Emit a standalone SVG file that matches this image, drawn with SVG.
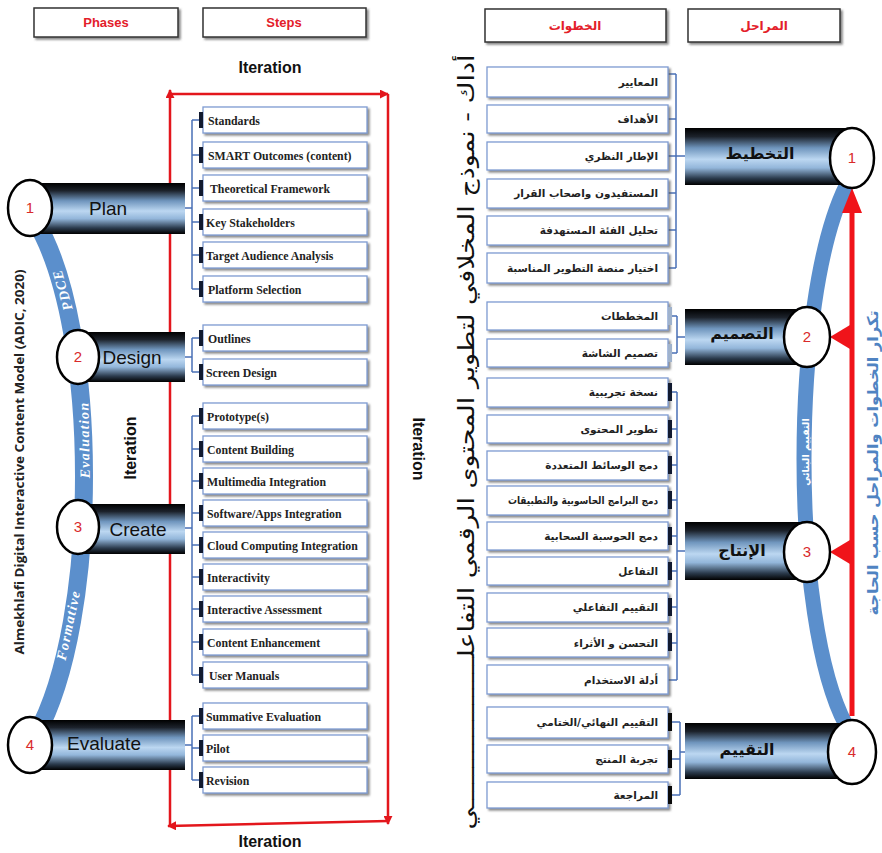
<svg xmlns="http://www.w3.org/2000/svg" width="882" height="853" viewBox="0 0 882 853">
<defs>
<linearGradient id="barGrad" x1="0" y1="0" x2="0" y2="1">
<stop offset="0" stop-color="#000"/>
<stop offset="0.15" stop-color="#1c222b"/>
<stop offset="0.35" stop-color="#6f95bd"/>
<stop offset="0.55" stop-color="#bcd7f1"/>
<stop offset="0.7" stop-color="#93b6da"/>
<stop offset="0.88" stop-color="#2c3c4e"/>
<stop offset="1" stop-color="#000"/>
</linearGradient>
<filter id="sh" x="-10%" y="-20%" width="130%" height="160%">
<feDropShadow dx="2" dy="2" stdDeviation="1.2" flood-color="#555" flood-opacity="0.7"/>
</filter>
<marker id="ah" viewBox="0 0 10 10" refX="9" refY="5" markerWidth="9" markerHeight="9" markerUnits="userSpaceOnUse" orient="auto">
<path d="M0,0 L10,5 L0,10 z" fill="#e3161c"/>
</marker>
<style>
.hdr{fill:#fff;stroke:#333;stroke-width:1.5;filter:url(#sh)}
.hdrt{font-family:"Liberation Sans",Arial,sans-serif;font-size:13px;font-weight:bold;fill:#e3202a;text-anchor:middle}
.hdra{font-family:"DejaVu Sans",sans-serif;font-size:12px;font-weight:bold;fill:#e3202a;text-anchor:middle}
.box{fill:#fff;stroke:#7e9bd2;stroke-width:1.3;filter:url(#sh)}
.lt{font-family:"Liberation Serif","Times New Roman",serif;font-size:11.8px;font-weight:bold;fill:#222}
.rt{font-family:"DejaVu Sans",sans-serif;font-size:10.5px;font-weight:bold;fill:#222;text-anchor:end}
.tab{fill:#111a30}
.tabk{fill:#0a0a0a}
.tabl{fill:#9fb2cc}
.bar{fill:url(#barGrad)}
.circ{fill:#fff;stroke:#000;stroke-width:2.5}
.num{font-family:"Liberation Sans",Arial,sans-serif;font-size:15px;fill:#d92a2a;text-anchor:middle}
.ph{font-family:"Liberation Sans",Arial,sans-serif;font-size:19px;fill:#111;text-anchor:middle}
.pha{font-family:"DejaVu Sans",sans-serif;font-size:16px;font-weight:bold;fill:#111;text-anchor:middle}
.con{fill:none;stroke:#4a70b6;stroke-width:1.5}
.arc{fill:none;stroke:#5b8fcc;stroke-linecap:butt}
.arcl{font-family:"Liberation Serif",serif;font-size:14px;font-weight:bold;font-style:italic;fill:#fff;text-anchor:middle;letter-spacing:1.3px}
.iter{font-family:"Liberation Sans",Arial,sans-serif;font-size:16px;font-weight:bold;fill:#111;text-anchor:middle}
.red{fill:none;stroke:#e3161c;stroke-width:2.5}
</style>
</defs>
<rect width="882" height="853" fill="#fff"/>

<!-- headers -->
<g id="hdr-phases"><rect class="hdr" x="34" y="8" width="144" height="29"/><text class="hdrt" x="106" y="27">Phases</text></g>
<g id="hdr-steps"><rect class="hdr" x="203" y="8" width="163" height="29"/><text class="hdrt" x="284" y="27">Steps</text></g>
<g id="hdr-steps-ar"><rect class="hdr" x="485" y="9" width="181" height="33"/><text class="hdra" x="575" y="30">الخطوات</text></g>
<g id="hdr-phases-ar"><rect class="hdr" x="688" y="9" width="152" height="33"/><text class="hdra" x="764" y="30">المراحل</text></g>

<!-- titles -->
<text class="iter" x="270" y="73">Iteration</text>
<text class="iter" x="270" y="847">Iteration</text>
<text class="iter" transform="translate(136,448) rotate(-90)">Iteration</text>
<text class="iter" transform="translate(413,449) rotate(90)">Iteration</text>
<text transform="translate(24,462) rotate(-90)" font-family="'Open Sans','DejaVu Sans',sans-serif" font-size="11.5" font-weight="bold" fill="#222" text-anchor="middle" textLength="385" lengthAdjust="spacingAndGlyphs">Almekhlafi Digital Interactive Content Model (ADIC, 2020)</text>
<text transform="translate(474,442) rotate(-90)" font-family="'DejaVu Sans',sans-serif" font-size="22" fill="#111" text-anchor="middle" textLength="775" lengthAdjust="spacingAndGlyphs">أداك - نموذج المخلافي لتطوير المحتوى الرقمي التفاعلـــــــــــــــــــي</text>
<text transform="translate(878,463) rotate(-90)" font-family="'DejaVu Sans',sans-serif" font-size="15" font-weight="bold" fill="#4f83c2" text-anchor="middle" textLength="305" lengthAdjust="spacingAndGlyphs">تكرار الخطوات والمراحل حسب الحاجة</text>

<!-- arcs -->
<path class="arc" d="M36,222 C100,330 100,620 36,735" stroke-width="18"/>
<text class="arcl" transform="translate(62,290) rotate(-106)" dy="5">PDCE</text>
<text class="arcl" transform="translate(84,440) rotate(-91)" dy="5">Evaluation</text>
<text class="arcl" transform="translate(68,625) rotate(-78)" dy="5">Formative</text>
<path class="arc" d="M846,186 C790,300 790,620 846,725" stroke-width="15"/>
<text transform="translate(805,452) rotate(-90)" dy="3.5" font-family="'DejaVu Sans',sans-serif" font-size="9.5" font-weight="bold" fill="#fff" text-anchor="middle">التقييم البنائي</text>

<!-- connectors -->
<g id="connectors">
<path class="con" d="M185,208 H192 M192,120 V289 M192,120 H199 M192,155 H199 M192,188 H199 M192,222 H199 M192,255 H199 M192,289 H199"/>
<path class="con" d="M185,357 H192 M192,338 V372 M192,338 H199 M192,372 H199"/>
<path class="con" d="M185,528 H192 M192,416 V675 M192,416 H199 M192,449 H199 M192,481 H199 M192,513 H199 M192,545 H199 M192,577 H199 M192,609 H199 M192,642 H199 M192,675 H199"/>
<path class="con" d="M185,745 H192 M192,716 V780 M192,716 H199 M192,748 H199 M192,780 H199"/>
<path class="con" d="M685,156 H676 M676,74 V268 M668,74 H676 M668,119 H676 M668,156 H676 M668,193 H676 M668,230 H676 M668,268 H676"/>
<path class="con" d="M685,337 H677 M677,316 V353 M672,316 H677 M672,353 H677"/>
<path class="con" d="M685,551 H677 M677,392 V680 M672,392 H677 M672,429 H677 M672,465 H677 M672,500 H677 M672,536 H677 M672,571 H677 M672,607 H677 M672,643 H677 M668,680 H677"/>
<path class="con" d="M685,752 H680 M680,722 V795 M672,722 H680 M672,759 H680 M672,795 H680" stroke="#8aa0c0"/>
<path class="red" d="M170,94 L388,94" marker-end="url(#ah)"/>
<path class="red" d="M388,94 L388,824" marker-end="url(#ah)"/>
<path class="red" d="M388,821 L168,826" marker-end="url(#ah)"/>
<path class="red" d="M170,826 L170,90" marker-end="url(#ah)"/>
<line x1="852" y1="716" x2="852" y2="208" stroke="#f0141a" stroke-width="5"/>
<polygon points="852,188 842,213 862,213" fill="#f0141a"/>
<polygon points="830,337 850,325 850,349" fill="#f0141a"/>
<polygon points="830,552 850,540 850,564" fill="#f0141a"/>
</g>

<!-- left phases -->
<g id="phase-plan"><rect class="bar" x="30" y="183" width="155" height="51"/><ellipse class="circ" cx="30" cy="208" rx="22" ry="28"/><text class="num" x="30" y="213">1</text><text class="ph" x="108" y="215">Plan</text></g>
<g id="phase-design"><rect class="bar" x="78" y="332" width="107" height="50"/><ellipse class="circ" cx="78" cy="357" rx="21" ry="27"/><text class="num" x="78" y="362">2</text><text class="ph" x="132" y="364">Design</text></g>
<g id="phase-create"><rect class="bar" x="78" y="504" width="107" height="50"/><ellipse class="circ" cx="78" cy="527" rx="21" ry="27"/><text class="num" x="78" y="532">3</text><text class="ph" x="138" y="536">Create</text></g>
<g id="phase-evaluate"><rect class="bar" x="30" y="720" width="155" height="50"/><ellipse class="circ" cx="30" cy="745" rx="22" ry="28"/><text class="num" x="30" y="750">4</text><text class="ph" x="104" y="750">Evaluate</text></g>

<!-- right phases -->
<g id="phase-plan-ar"><rect class="bar" x="685" y="128" width="167" height="57"/><ellipse class="circ" cx="852" cy="158" rx="22" ry="30"/><text class="num" x="852" y="163">1</text><text class="pha" x="760" y="159">التخطيط</text></g>
<g id="phase-design-ar"><rect class="bar" x="685" y="309" width="122" height="56"/><ellipse class="circ" cx="807" cy="337" rx="23" ry="30"/><text class="num" x="807" y="342">2</text><text class="pha" x="742" y="339">التصميم</text></g>
<g id="phase-create-ar"><rect class="bar" x="685" y="522" width="122" height="58"/><ellipse class="circ" cx="807" cy="552" rx="23" ry="30"/><text class="num" x="807" y="557">3</text><text class="pha" x="742" y="556">الإنتاج</text></g>
<g id="phase-evaluate-ar"><rect class="bar" x="685" y="723" width="167" height="56"/><ellipse class="circ" cx="852" cy="752" rx="24" ry="32"/><text class="num" x="852" y="757">4</text><text class="pha" x="747" y="755">التقييم</text></g>

<!-- left steps -->
<g id="s-standards"><rect class="box" x="203" y="107" width="164" height="26"/><rect class="tab" x="199" y="112" width="4" height="16"/><text class="lt" x="208" y="124.5">Standards</text></g>
<g id="s-smart"><rect class="box" x="203" y="142" width="164" height="26"/><rect class="tab" x="199" y="147" width="4" height="16"/><text class="lt" x="208" y="159.5">SMART Outcomes (content)</text></g>
<g id="s-theory"><rect class="box" x="203" y="175" width="164" height="26"/><rect class="tab" x="199" y="180" width="4" height="16"/><text class="lt" x="210" y="192.5">Theoretical Framework</text></g>
<g id="s-stake"><rect class="box" x="203" y="209" width="164" height="26"/><rect class="tab" x="199" y="214" width="4" height="16"/><text class="lt" x="206" y="226.5">Key Stakeholders</text></g>
<g id="s-target"><rect class="box" x="203" y="242" width="164" height="26"/><rect class="tab" x="199" y="247" width="4" height="16"/><text class="lt" x="206" y="259.5">Target Audience Analysis</text></g>
<g id="s-platform"><rect class="box" x="203" y="276" width="164" height="26"/><rect class="tab" x="199" y="281" width="4" height="16"/><text class="lt" x="208" y="293.5">Platform Selection</text></g>
<g id="s-outlines"><rect class="box" x="203" y="325" width="164" height="26"/><rect class="tab" x="199" y="330" width="4" height="16"/><text class="lt" x="208" y="342.5">Outlines</text></g>
<g id="s-screen"><rect class="box" x="203" y="359" width="164" height="26"/><rect class="tab" x="199" y="364" width="4" height="16"/><text class="lt" x="206" y="376.5">Screen Design</text></g>
<g id="s-proto"><rect class="box" x="203" y="403" width="164" height="26"/><rect class="tab" x="199" y="408" width="4" height="16"/><text class="lt" x="207" y="420.5">Prototype(s)</text></g>
<g id="s-content"><rect class="box" x="203" y="436" width="164" height="26"/><rect class="tab" x="199" y="441" width="4" height="16"/><text class="lt" x="207" y="453.5">Content Building</text></g>
<g id="s-multi"><rect class="box" x="203" y="468" width="164" height="26"/><rect class="tab" x="199" y="473" width="4" height="16"/><text class="lt" x="207" y="485.5">Multimedia Integration</text></g>
<g id="s-soft"><rect class="box" x="203" y="500" width="164" height="26"/><rect class="tab" x="199" y="505" width="4" height="16"/><text class="lt" x="207" y="517.5">Software/Apps Integration</text></g>
<g id="s-cloud"><rect class="box" x="203" y="532" width="164" height="26"/><rect class="tab" x="199" y="537" width="4" height="16"/><text class="lt" x="207" y="549.5">Cloud Computing Integration</text></g>
<g id="s-inter"><rect class="box" x="203" y="564" width="164" height="26"/><rect class="tab" x="199" y="569" width="4" height="16"/><text class="lt" x="207" y="581.5">Interactivity</text></g>
<g id="s-iassess"><rect class="box" x="203" y="596" width="164" height="26"/><rect class="tab" x="199" y="601" width="4" height="16"/><text class="lt" x="207" y="613.5">Interactive Assessment</text></g>
<g id="s-enh"><rect class="box" x="203" y="629" width="164" height="26"/><rect class="tab" x="199" y="634" width="4" height="16"/><text class="lt" x="207" y="646.5">Content Enhancement</text></g>
<g id="s-manual"><rect class="box" x="203" y="662" width="164" height="26"/><rect class="tab" x="199" y="667" width="4" height="16"/><text class="lt" x="209" y="679.5">User Manuals</text></g>
<g id="s-summ"><rect class="box" x="203" y="703" width="164" height="26"/><rect class="tab" x="199" y="708" width="4" height="16"/><text class="lt" x="206" y="720.5">Summative Evaluation</text></g>
<g id="s-pilot"><rect class="box" x="203" y="735" width="164" height="26"/><rect class="tab" x="199" y="740" width="4" height="16"/><text class="lt" x="206" y="752.5">Pilot</text></g>
<g id="s-rev"><rect class="box" x="203" y="767" width="164" height="26"/><rect class="tab" x="199" y="772" width="4" height="16"/><text class="lt" x="206" y="784.5">Revision</text></g>

<!-- right steps -->
<g id="r-standards"><rect class="box" x="487" y="67" width="181" height="30"/><text class="rt" x="658" y="86">المعايير</text></g>
<g id="r-goals"><rect class="box" x="487" y="105" width="181" height="28"/><text class="rt" x="658" y="123">الأهداف</text></g>
<g id="r-theory"><rect class="box" x="487" y="142" width="181" height="28"/><text class="rt" x="658" y="160">الإطار النظري</text></g>
<g id="r-stake"><rect class="box" x="487" y="179" width="181" height="29"/><text class="rt" x="658" y="197">المستفيدون واصحاب القرار</text></g>
<g id="r-target"><rect class="box" x="487" y="216" width="181" height="29"/><text class="rt" x="658" y="234">تحليل الفئة المستهدفة</text></g>
<g id="r-platform"><rect class="box" x="487" y="253" width="181" height="30"/><text class="rt" x="658" y="272">اختيار منصة التطوير المناسبة</text></g>
<g id="r-outlines"><rect class="box" x="487" y="302" width="181" height="28"/><rect class="tabl" x="668" y="307" width="4" height="18"/><text class="rt" x="658" y="320">المخططات</text></g>
<g id="r-screen"><rect class="box" x="487" y="339" width="181" height="28"/><rect class="tabl" x="668" y="344" width="4" height="18"/><text class="rt" x="658" y="357">تصميم الشاشة</text></g>
<g id="r-proto"><rect class="box" x="487" y="378" width="181" height="29"/><rect class="tab" x="668" y="383" width="4" height="18"/><text class="rt" x="658" y="396">نسخة تجريبية</text></g>
<g id="r-content"><rect class="box" x="487" y="415" width="181" height="28"/><rect class="tab" x="668" y="420" width="4" height="18"/><text class="rt" x="658" y="433">تطوير المحتوى</text></g>
<g id="r-multi"><rect class="box" x="487" y="451" width="181" height="29"/><rect class="tab" x="668" y="456" width="4" height="18"/><text class="rt" x="658" y="469">دمج الوسائط المتعددة</text></g>
<g id="r-soft"><rect class="box" x="487" y="486" width="181" height="29"/><rect class="tab" x="668" y="491" width="4" height="18"/><text class="rt" x="658" y="504" textLength="150" lengthAdjust="spacingAndGlyphs">دمج البرامج الحاسوبية والتطبيقات</text></g>
<g id="r-cloud"><rect class="box" x="487" y="522" width="181" height="28"/><rect class="tab" x="668" y="527" width="4" height="18"/><text class="rt" x="658" y="540">دمج الحوسبة السحابية</text></g>
<g id="r-inter"><rect class="box" x="487" y="557" width="181" height="28"/><rect class="tab" x="668" y="562" width="4" height="18"/><text class="rt" x="658" y="575">التفاعل</text></g>
<g id="r-iassess"><rect class="box" x="487" y="593" width="181" height="29"/><rect class="tab" x="668" y="598" width="4" height="18"/><text class="rt" x="658" y="611">التقييم التفاعلي</text></g>
<g id="r-enh"><rect class="box" x="487" y="628" width="181" height="29"/><rect class="tab" x="668" y="633" width="4" height="18"/><text class="rt" x="658" y="647">التحسن و الأثراء</text></g>
<g id="r-manual"><rect class="box" x="487" y="665" width="181" height="29"/><text class="rt" x="658" y="684">أدلة الاستخدام</text></g>
<g id="r-summ"><rect class="box" x="487" y="707" width="181" height="31"/><rect class="tabk" x="668" y="713" width="4" height="18"/><text class="rt" x="658" y="726">التقييم النهائي/الختامي</text></g>
<g id="r-pilot"><rect class="box" x="487" y="745" width="181" height="28"/><rect class="tabk" x="668" y="750" width="4" height="18"/><text class="rt" x="658" y="763">تجربة المنتج</text></g>
<g id="r-rev"><rect class="box" x="487" y="782" width="181" height="26"/><rect class="tabk" x="668" y="786" width="4" height="18"/><text class="rt" x="658" y="799">المراجعة</text></g>
</svg>
